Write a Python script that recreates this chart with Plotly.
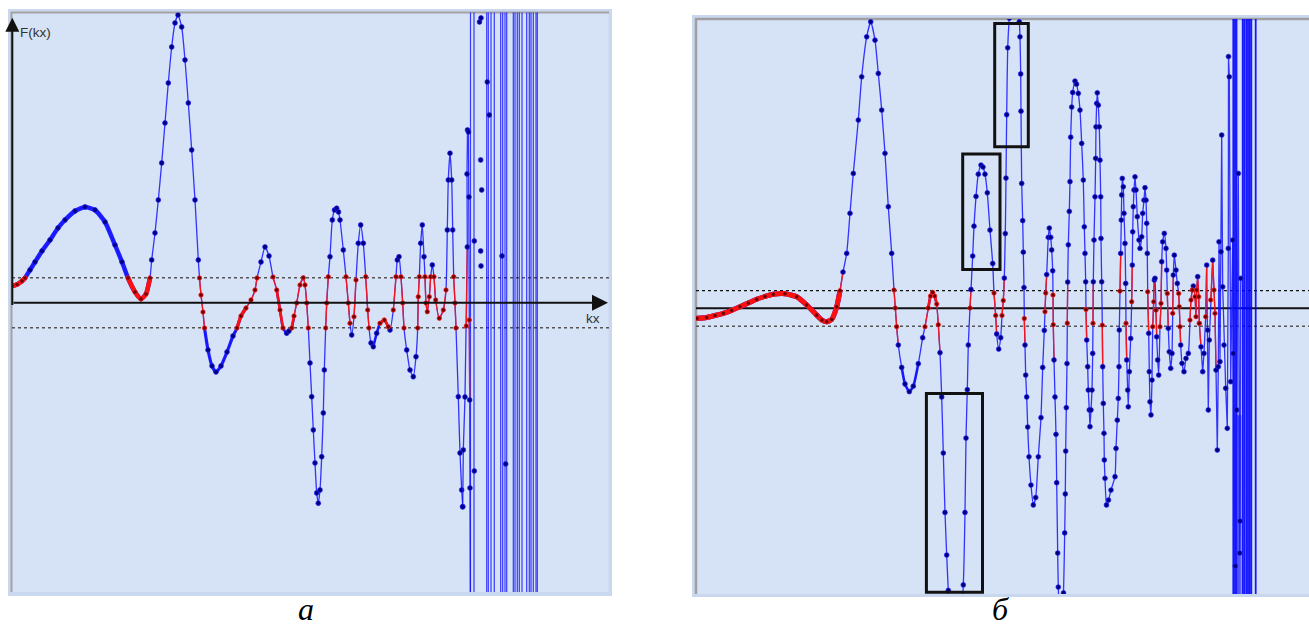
import plotly.graph_objects as go

W, H = 1309, 629
THRESH = 1.05  # |F| band shown by the dashed lines; points inside are red

# ---------------- panel a data (kx, F) ----------------
a_curve = [
    (0.0, 0.67), (0.5, 0.73), (1.0, 0.87), (1.3, 0.99), (1.8, 1.31), (2.3, 1.63), (3.0, 2.07), (3.8, 2.51),
    (4.6, 2.99), (5.3, 3.31), (6.3, 3.67), (7.3, 3.83), (8.3, 3.71), (9.3, 3.23), (10.3, 2.31), (11.0, 1.63),
    (11.6, 0.99), (12.3, 0.43), (12.9, 0.15), (13.4, 0.35), (13.8, 0.99), (13.97, 1.71), (14.3, 2.79), (14.63, 4.11),
    (14.97, 5.59), (15.3, 7.19), (15.63, 8.79), (15.97, 10.23), (16.3, 11.19), (16.6, 11.51), (16.97, 11.03), (17.3, 9.71),
    (17.63, 7.99), (17.97, 6.11), (18.3, 4.11), (18.63, 1.71), (18.75, 0.99), (18.9, 0.31), (19.1, -0.37), (19.25, -1.01),
    (19.6, -1.89), (20.0, -2.53), (20.4, -2.77),
    (20.9, -2.53), (21.5, -1.97), (22.1, -1.33), (22.5, -1.01), (22.9, -0.53), (23.4, -0.21), (23.9, 0.11), (24.3, 0.51),
    (24.5, 0.99), (24.9, 1.63), (25.3, 2.23), (25.7, 1.87), (26.1, 1.03), (26.47, 0.51), (26.8, -0.29), (27.1, -1.01),
    (27.47, -1.22), (27.7, -1.13), (27.97, -1.01), (28.2, -0.53), (28.47, -0.01), (28.8, 0.71), (29.13, 1.0), (29.3, 0.71),
    (29.47, -0.01), (29.63, -1.01), (29.8, -2.41), (29.97, -3.76), (30.13, -5.09), (30.3, -6.41), (30.47, -7.61), (30.63, -8.02),
    (30.8, -7.49), (30.97, -6.16), (31.13, -4.41), (31.23, -2.69), (31.37, -1.01), (31.47, -0.01), (31.63, 1.04), (31.8, 1.84),
    (32.03, 3.31), (32.25, 3.71), (32.47, 3.78), (32.65, 3.63), (32.8, 3.31), (33.13, 2.11), (33.4, 1.04), (33.63, -0.01),
    (33.8, -0.82), (33.97, -1.29), (34.2, -0.56), (34.4, 0.91), (34.63, 2.38), (34.87, 3.11), (35.13, 2.38), (35.37, 1.04),
    (35.57, -0.29), (35.7, -1.01), (35.9, -1.61), (36.13, -1.76), (36.47, -1.22), (36.8, -0.82), (37.23, -0.69), (37.63, -0.96),
    (37.8, -1.09), (38.13, -0.29), (38.4, 1.04), (38.53, 1.71), (38.7, 1.84), (38.9, 1.04), (39.07, -0.01), (39.2, -1.01),
    (39.47, -1.89), (39.8, -2.69), (40.13, -2.96), (40.4, -2.16), (40.57, -1.01), (40.63, 0.24), (40.73, 1.04), (40.87, 2.38),
    (41.03, 3.11), (41.2, 1.84), (41.3, 1.04), (41.4, -0.01), (41.53, -0.36), (41.73, 0.24), (41.87, 1.04), (42.03, 1.51),
    (42.2, 1.04), (42.37, 0.11), (42.73, -0.62), (43.13, -0.29), (43.4, 0.51), (43.53, 2.91), (43.63, 4.91), (43.8, 5.98),
    (43.97, 4.91), (44.07, 2.91), (44.17, 1.04), (44.3, -0.01), (44.4, -1.01), (44.63, -3.76), (44.8, -6.01), (44.97, -7.49),
    (45.07, -8.16),
]
a_tail = [
    (45.07, -8.16), (45.13, -5.89), (45.3, -3.77), (45.43, -0.93), (45.53, 2.23), (45.5, 5.15), (45.55, 6.91),
    (45.65, 6.83), (45.7, 4.23), (45.73, -0.69), (45.77, -3.89), (45.85, -14.0),
]
a_dots = [
    (46.23, 2.47), (46.23, -6.73), (45.8, -7.41), (46.75, 11.23), (46.9, 11.39), (46.87, 5.71), (46.97, 4.51),
    (46.87, 2.07), (46.9, 1.47), (47.53, 8.83), (47.73, 7.51), (49.0, 1.87), (49.37, -6.45),
]
a_poles = [45.85, 46.2, 47.47, 47.63, 47.9, 48.23, 48.87, 49.07, 49.3, 49.47, 50.13, 50.3, 50.53, 50.73,
           51.0, 51.47, 51.73, 51.9, 52.13, 52.4, 52.53]

# ---------------- panel б data (kx, F) ----------------
b_curve = [
    (0.1, -0.56), (1.07, -0.51), (1.9, -0.40), (2.73, -0.28), (3.57, -0.11), (4.4, 0.09), (5.23, 0.30), (6.07, 0.51),
    (6.9, 0.67), (7.73, 0.79), (8.9, 0.82), (10.07, 0.65), (11.07, 0.19), (12.07, -0.38), (12.6, -0.66), (13.07, -0.75),
    (13.57, -0.62), (14.07, 0.09), (14.4, 0.99), (14.7, 2.04), (15.07, 3.09), (15.4, 5.34), (15.73, 7.58), (16.23, 10.58),
    (16.57, 13.01), (17.07, 15.26), (17.47, 16.1), (17.9, 15.07), (18.23, 13.2), (18.57, 11.14), (18.9, 8.71), (19.23, 5.71),
    (19.57, 3.09), (19.8, 1.03), (19.93, 0.02), (20.07, -1.03), (20.23, -2.06), (20.57, -3.32), (20.9, -4.25), (21.33, -4.68),
    (21.73, -4.37), (22.23, -3.11), (22.67, -1.65), (22.9, -1.03), (23.23, 0.02), (23.45, 0.69), (23.67, 0.90), (23.87, 0.69),
    (24.07, 0.24), (24.23, -0.92), (24.4, -2.49), (24.57, -4.98), (24.73, -8.13), (24.9, -11.47), (25.07, -13.86), (25.23, -15.85),
    (25.95, -22.0), (26.73, -15.54), (26.9, -11.47), (27.0, -7.29), (27.13, -4.57), (27.23, -2.06), (27.4, 0.02), (27.5, 1.06),
    (27.67, 2.94), (27.8, 4.62), (28.0, 6.29), (28.23, 7.54), (28.5, 8.05), (28.7, 7.94), (28.9, 7.54), (29.13, 6.49),
    (29.4, 4.4), (29.67, 2.52), (29.8, 0.86), (29.97, -0.40), (30.07, -1.44), (30.27, -2.29), (30.47, -1.65), (30.6, -0.40),
    (30.73, 0.44), (30.83, 1.70), (30.93, 4.2), (31.0, 7.32), (31.07, 10.88), (31.17, 14.64), (31.33, 16.31), (31.8, 19.0),
    (32.33, 16.1), (32.4, 15.26), (32.47, 13.17), (32.5, 11.08), (32.57, 7.02), (32.67, 4.93), (32.73, 3.16), (32.8, 1.17),
    (32.83, -0.57), (32.9, -2.06), (32.97, -3.75), (33.07, -4.98), (33.17, -6.67), (33.3, -8.34), (33.5, -9.93), (33.73, -11.05),
    (33.97, -10.63), (34.23, -8.34), (34.5, -6.14), (34.67, -3.32), (34.83, -1.24), (34.9, -0.19), (34.97, 0.86), (35.07, 1.90),
    (35.23, 3.99), (35.33, 4.51), (35.47, 3.99), (35.57, 3.28), (35.67, 2.11), (35.7, 0.75), (35.73, -0.92), (35.8, -2.90),
    (35.9, -4.98), (36.0, -7.08), (36.07, -9.80), (36.17, -13.75), (36.23, -15.66), (36.5, -19.2), (36.75, -15.99), (36.87, -12.62),
    (36.93, -10.43), (36.97, -8.02), (37.03, -5.58), (37.1, -3.10), (37.13, -0.83), (37.17, 1.48), (37.23, 3.57), (37.33, 5.45),
    (37.4, 7.12), (37.47, 9.62), (37.57, 11.31), (37.67, 12.13), (37.9, 12.77), (38.05, 12.6), (38.23, 12.08), (38.4, 11.14),
    (38.57, 9.27), (38.73, 7.21), (38.83, 4.58), (38.9, 3.09), (38.97, 1.49), (39.0, -0.06), (39.07, -1.78), (39.17, -3.28),
    (39.23, -4.59), (39.33, -5.71), (39.4, -6.65), (39.5, -5.71), (39.6, -4.59), (39.67, -2.53), (39.7, -0.84), (39.73, 1.49),
    (39.8, 3.84), (39.9, 6.27), (39.97, 8.43), (40.0, 10.2), (40.07, 11.52), (40.13, 12.11), (40.23, 11.42), (40.33, 10.2),
    (40.4, 8.33), (40.47, 6.27), (40.5, 3.93), (40.57, 1.49), (40.63, -0.94), (40.67, -3.28), (40.73, -5.34), (40.8, -7.02),
    (40.83, -8.52), (40.9, -9.55), (41.05, -11.05), (41.25, -10.77), (41.5, -10.21), (41.9, -9.46), (42.0, -7.87), (42.13, -6.28),
    (42.23, -5.06), (42.3, -3.28), (42.33, -1.22), (42.4, 0.97), (42.47, 3.09), (42.53, 4.96), (42.57, 6.37), (42.63, 7.30),
    (42.73, 6.83), (42.8, 5.34), (42.9, 3.65), (42.97, 1.40), (43.0, -0.84), (43.07, -2.90), (43.17, -4.59), (43.23, -5.53),
    (43.33, -3.56), (43.47, -1.69), (43.57, 0.37), (43.63, 2.43), (43.67, 4.30), (43.73, 5.71), (43.8, 6.65), (43.9, 7.39),
    (44.0, 6.65), (44.13, 5.15), (44.3, 3.84), (44.4, 3.37), (44.57, 4.02), (44.67, 5.34), (44.8, 6.08), (44.9, 6.78),
    (45.0, 6.08), (45.07, 4.78), (45.13, 3.09), (45.17, 0.93), (45.27, -1.40), (45.33, -3.56), (45.4, -5.25), (45.5, -5.99),
    (45.6, -4.03), (45.67, -1.03), (45.77, 0.37), (45.83, 1.59), (45.9, 1.69), (46.0, -0.10), (46.07, -1.60), (46.17, -2.90),
    (46.27, -3.75), (46.4, -1.03), (46.5, 0.28), (46.57, 2.62), (46.67, 3.74), (46.83, 4.21), (47.0, 3.37), (47.07, 2.15),
    (47.13, 0.84), (47.23, -1.12), (47.33, -2.44), (47.47, -3.37), (47.6, -2.53), (47.67, -0.28), (47.73, 1.87), (47.83, 2.99),
    (48.0, 2.15), (48.13, 1.40), (48.27, 0.84), (48.33, 0.09), (48.4, -1.03), (48.47, -2.06), (48.6, -3.09), (48.8, -3.56),
    (49.0, -2.81), (49.23, -2.53), (49.4, -0.66), (49.5, 0.47), (49.63, 1.03), (49.73, 1.25), (49.9, 0.65), (50.0, -0.47),
    (50.07, 1.03), (50.17, 1.78), (50.27, 0.65), (50.33, -0.84),
]
b_tail = [
    (50.33, -0.84), (50.5, -2.16), (50.67, -3.56), (50.8, -2.53), (50.97, -0.47), (51.07, 2.43), (51.17, -1.22),
    (51.23, -5.71), (51.33, -1.78), (51.47, 0.47), (51.67, 2.71), (51.8, 1.03), (51.9, -0.28), (52.0, -3.47),
    (52.13, -7.96), (52.23, -3.28), (52.3, 3.74), (52.4, -3.0), (52.5, 3.18), (52.57, 9.74), (52.67, 1.21),
    (52.8, -2.06), (52.97, -4.49), (53.13, -6.74), (53.23, 3.37), (53.25, 14.15), (53.33, 13.01), (53.47, -4.12),
    (53.67, 3.84), (53.73, -2.53), (53.93, -14.48), (54.07, -5.71), (54.23, 7.58), (54.37, -13.75), (54.4, -11.95),
    (54.47, 1.69),
]
b_poles = [53.73, 53.9, 54.05, 54.67, 54.83, 55.03, 55.2, 55.37, 55.53, 55.97]
b_poles_low = [54.15, 54.25, 54.35, 54.45]

# highlight boxes (kx0, kx1, F0, F1) in panel б
b_boxes = [(23.04, 28.65, -15.95, -4.79), (26.67, 30.4, 2.19, 8.67), (29.87, 33.23, 9.08, 16.01)]

# ---------------- styling ----------------
BG = '#D6E3F6'
FRAME = '#C9D8EE'
BLUE_LINE = 'rgba(20,20,255,0.85)'
RED_LINE = 'rgba(255,20,20,0.95)'
BLUE_DOT = '#00007A'
RED_DOT = '#6A0000'

fig = go.Figure()


def is_red(f):
    return abs(f) <= THRESH


def add_curve(pts, xa, ya, shape, dense, rule):
    kx = [p[0] for p in pts]
    F = [p[1] for p in pts]
    n = len(F)
    if rule == 'both':
        keep = [is_red(F[i]) and ((i > 0 and is_red(F[i - 1])) or (i < n - 1 and is_red(F[i + 1])))
                for i in range(n)]
    else:
        keep = [is_red(F[i]) or (i > 0 and is_red(F[i - 1])) for i in range(n)]
    red_y = [F[i] if keep[i] else None for i in range(n)]
    lk = dict(shape='spline', smoothing=0.55) if shape == 'spline' else dict(shape='linear')
    common = dict(xaxis=xa, yaxis=ya, hoverinfo='skip', showlegend=False, connectgaps=False)
    fig.add_trace(go.Scatter(x=kx, y=F, mode='lines', line=dict(color=BLUE_LINE, width=1.3, **lk), **common))
    fig.add_trace(go.Scatter(x=kx, y=red_y, mode='lines', line=dict(color=RED_LINE, width=1.3, **lk), **common))
    for lo, hi, w in dense:
        idx = [i for i in range(n) if lo <= kx[i] <= hi]
        fig.add_trace(go.Scatter(x=[kx[i] for i in idx], y=[F[i] for i in idx], mode='lines',
                                 line=dict(color='rgba(20,20,255,0.95)', width=w, **lk), **common))
        fig.add_trace(go.Scatter(x=[kx[i] for i in idx], y=[red_y[i] for i in idx], mode='lines',
                                 line=dict(color='rgba(255,15,15,1)', width=w, **lk), **common))
    bi = [i for i in range(n) if not is_red(F[i])]
    ri = [i for i in range(n) if is_red(F[i])]
    fig.add_trace(go.Scatter(x=[kx[i] for i in bi], y=[F[i] for i in bi], mode='markers',
                             marker=dict(color=BLUE_DOT, size=4.8, line=dict(color='rgba(30,30,255,0.7)', width=1)),
                             **common))
    fig.add_trace(go.Scatter(x=[kx[i] for i in ri], y=[F[i] for i in ri], mode='markers',
                             marker=dict(color=RED_DOT, size=4.4, line=dict(color='rgba(255,30,30,0.8)', width=1)),
                             **common))


def add_poles(poles, xa, ya, lo, hi, color, width):
    xs, ys = [], []
    for p in poles:
        xs += [p, p, None]
        ys += [lo, hi, None]
    fig.add_trace(go.Scatter(x=xs, y=ys, mode='lines', line=dict(color=color, width=width),
                             xaxis=xa, yaxis=ya, hoverinfo='skip', showlegend=False))


# poles first (behind)
add_poles(a_poles, 'x', 'y', -100, 100, 'rgba(0,0,255,0.75)', 1.2)
add_poles(b_poles, 'x2', 'y2', -100, 100, 'rgba(0,0,255,0.9)', 1.8)
add_poles(b_poles_low, 'x2', 'y2', -100, -6, 'rgba(40,40,255,0.55)', 2)

add_curve(a_curve, 'x', 'y', 'spline', [(0, 13.9, 4.5), (19.2, 23.5, 3.2), (26.3, 28.3, 2.6), (36.1, 37.8, 2.6)], 'both')
add_curve(a_tail, 'x', 'y', 'linear', [], 'left')
fig.add_trace(go.Scatter(x=[p[0] for p in a_dots], y=[p[1] for p in a_dots], mode='markers',
                         marker=dict(color=BLUE_DOT, size=4.8, line=dict(color='rgba(30,30,255,0.7)', width=1)),
                         xaxis='x', yaxis='y', hoverinfo='skip', showlegend=False))

add_curve(b_curve, 'x2', 'y2', 'spline', [(0, 14.5, 5), (20.3, 22.6, 2.6), (23.2, 24.1, 2.6)], 'left')
add_curve(b_tail, 'x2', 'y2', 'linear', [], 'left')


def px(x):
    return x / W


def py(y):
    return 1 - y / H


shapes = []
# panel frames (paper coordinates)
shapes.append(dict(type='rect', xref='paper', yref='paper', x0=px(8), x1=px(612), y0=py(596), y1=py(9),
                   fillcolor=FRAME, line=dict(width=0), layer='below'))
shapes.append(dict(type='rect', xref='paper', yref='paper', x0=px(12), x1=px(608.5), y0=py(592), y1=py(12.5),
                   fillcolor=BG, line=dict(width=0), layer='below'))
shapes.append(dict(type='line', xref='paper', yref='paper', x0=px(11), x1=px(609), y0=py(12.5), y1=py(12.5),
                   line=dict(color='#A3A3A3', width=2), layer='below'))
shapes.append(dict(type='line', xref='paper', yref='paper', x0=px(11.5), x1=px(11.5), y0=py(592), y1=py(12),
                   line=dict(color='#A3A3A3', width=2), layer='below'))

shapes.append(dict(type='rect', xref='paper', yref='paper', x0=px(692), x1=px(1309), y0=py(597), y1=py(15),
                   fillcolor=FRAME, line=dict(width=0), layer='below'))
shapes.append(dict(type='rect', xref='paper', yref='paper', x0=px(696), x1=px(1309), y0=py(594), y1=py(19),
                   fillcolor=BG, line=dict(width=0), layer='below'))
shapes.append(dict(type='line', xref='paper', yref='paper', x0=px(695), x1=px(1309), y0=py(19), y1=py(19),
                   line=dict(color='#A0A0A0', width=2.5), layer='below'))
shapes.append(dict(type='line', xref='paper', yref='paper', x0=px(696), x1=px(696), y0=py(594), y1=py(18),
                   line=dict(color='#A0A0A0', width=2.5), layer='below'))

# panel a reference lines
shapes.append(dict(type='line', xref='x', yref='y', x0=0, x1=59.7, y0=1, y1=1,
                   line=dict(color='#555555', width=1.5, dash='3px,3px'), layer='below'))
shapes.append(dict(type='line', xref='x', yref='y', x0=0, x1=59.7, y0=-1, y1=-1,
                   line=dict(color='#555555', width=1.5, dash='3px,3px'), layer='below'))
# panel б reference lines
shapes.append(dict(type='line', xref='x2', yref='y2', x0=0, x1=61.3, y0=0, y1=0,
                   line=dict(color='#111111', width=2), layer='below'))
shapes.append(dict(type='line', xref='x2', yref='y2', x0=0, x1=61.3, y0=1, y1=1,
                   line=dict(color='#111111', width=1.3, dash='3px,3px'), layer='below'))
shapes.append(dict(type='line', xref='x2', yref='y2', x0=0, x1=61.3, y0=-1, y1=-1,
                   line=dict(color='#555555', width=1.5, dash='3px,3px'), layer='below'))
for (x0, x1, y0, y1) in b_boxes:
    shapes.append(dict(type='rect', xref='x2', yref='y2', x0=x0, x1=x1, y0=y0, y1=y1,
                       line=dict(color='#111111', width=3), fillcolor='rgba(0,0,0,0)', layer='above'))

annotations = [
    # axes of panel a with arrowheads
    dict(x=59.6, y=0, ax=0, ay=0, xref='x', yref='y', axref='x', ayref='y', text='', showarrow=True,
         arrowhead=2, arrowsize=1.6, arrowwidth=2, arrowcolor='#111111'),
    dict(x=0.03, y=11.4, ax=0.03, ay=-0.15, xref='x', yref='y', axref='x', ayref='y', text='', showarrow=True,
         arrowhead=2, arrowsize=1.4, arrowwidth=2, arrowcolor='#111111'),
    dict(x=0.55, y=10.8, xref='x', yref='y', text='F(kx)', showarrow=False, xanchor='left', yanchor='middle',
         font=dict(family='Liberation Sans, Arial', size=13.5, color='#333333')),
    dict(x=57.2, y=-0.62, xref='x', yref='y', text='kx', showarrow=False, xanchor='left', yanchor='middle',
         font=dict(family='Liberation Sans, Arial', size=13.5, color='#333333')),
    dict(x=px(306), y=0, xref='paper', yref='paper', text='<i>а</i>', showarrow=False,
         xanchor='center', yanchor='bottom', font=dict(family='Liberation Serif', size=32, color='#000000')),
    dict(x=px(1000), y=0, xref='paper', yref='paper', text='<i>б</i>', showarrow=False,
         xanchor='center', yanchor='bottom', font=dict(family='Liberation Serif', size=32, color='#000000')),
]

ax_common = dict(showgrid=False, zeroline=False, showticklabels=False, ticks='', showline=False, fixedrange=True)
fig.update_layout(
    width=W, height=H, margin=dict(l=0, r=0, t=0, b=0),
    paper_bgcolor='white', plot_bgcolor='rgba(0,0,0,0)',
    xaxis=dict(domain=[px(12), px(609)], range=[0, 59.7], anchor='y', **ax_common),
    yaxis=dict(domain=[py(592), py(12.5)], range=[-11.57, 11.61], anchor='x', **ax_common),
    xaxis2=dict(domain=[px(696), 1.0], range=[0, 61.3], anchor='y2', **ax_common),
    yaxis2=dict(domain=[py(594), py(19)], range=[-16.05, 16.26], anchor='x2', **ax_common),
    shapes=shapes, annotations=annotations, showlegend=False,
)

fig.write_html("out.html", config={'displayModeBar': False},
               post_script="document.body.style.margin='0px';document.body.style.overflow='hidden';")
